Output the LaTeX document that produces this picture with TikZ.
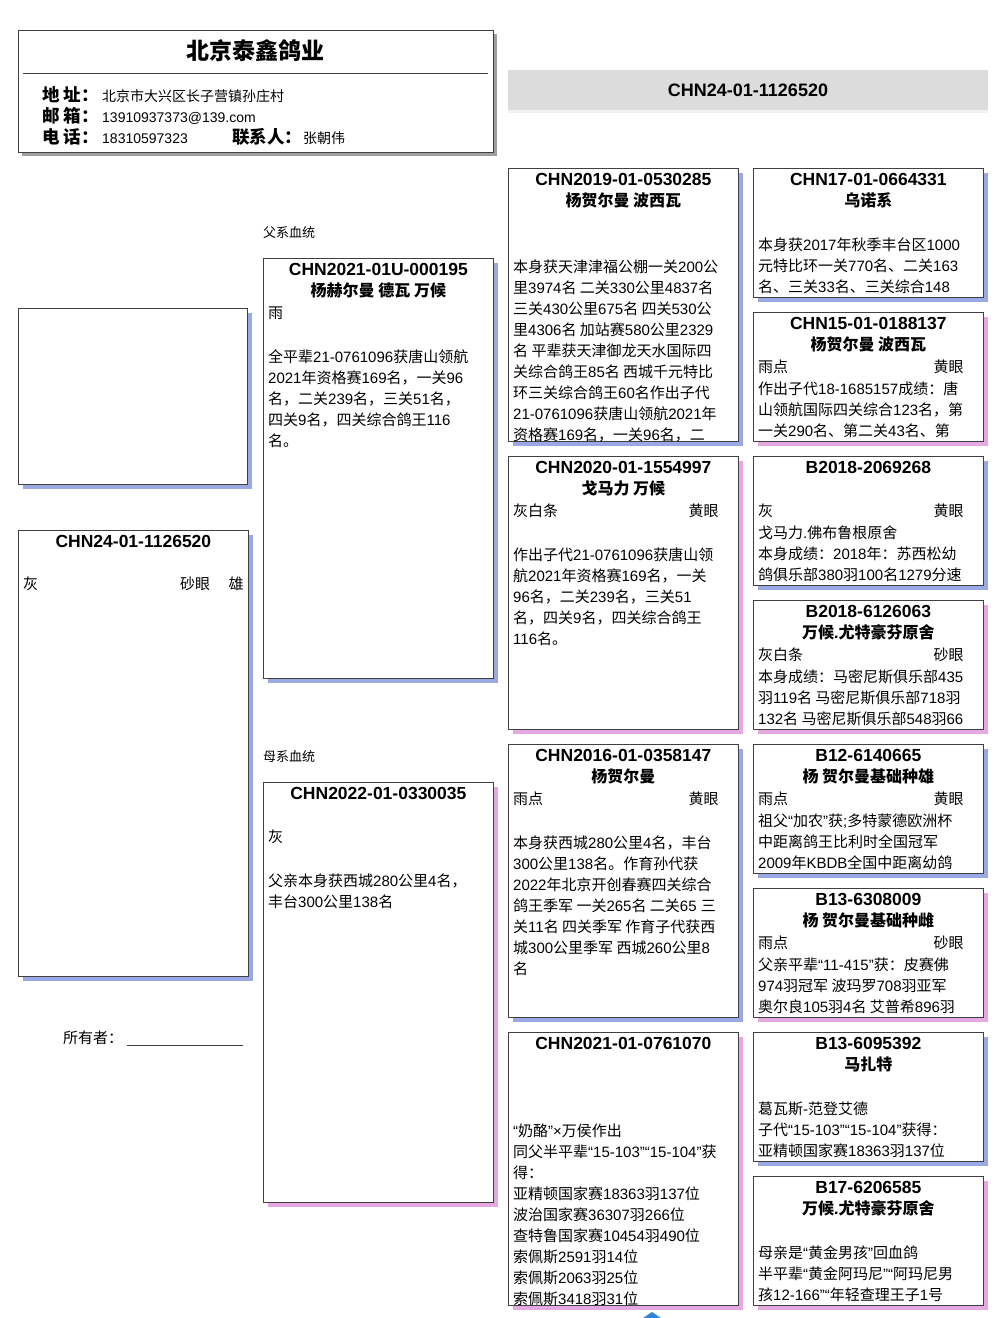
\documentclass[tikz,border=0pt]{standalone}
\usepackage{fontspec}
\setmainfont{Liberation Sans}
\newfontfamily\cjkfont{Noto Sans CJK SC}
\usepackage{tikz}
\usetikzlibrary{calc}
\definecolor{sireshade}{HTML}{9AA8E4}
\definecolor{damshade}{HTML}{E6A8E0}
\definecolor{barfill}{HTML}{DCDCDC}
\definecolor{edge}{HTML}{404040}
\definecolor{navblue}{HTML}{2F86D6}

% switch to the CJK font for Chinese characters
\XeTeXinterchartokenstate=1
\newXeTeXintercharclass\cjkcls
\newcount\cjkcode
\cjkcode="3000
\loop
  \XeTeXcharclass\cjkcode=\cjkcls
  \advance\cjkcode by 1
\ifnum\cjkcode<"A000 \repeat
\cjkcode="FF00
\loop
  \XeTeXcharclass\cjkcode=\cjkcls
  \advance\cjkcode by 1
\ifnum\cjkcode<"FFF0 \repeat
\XeTeXinterchartoks 0 \cjkcls = {\cjkfont}
\XeTeXinterchartoks 4095 \cjkcls = {\cjkfont}
\XeTeXinterchartoks \cjkcls 0 = {\rmfamily}
\XeTeXinterchartoks 4095 0 = {\rmfamily}

% card: name, top left, height, shadow colour, ring number
\newcommand{\pcard}[5]{%
  \fill[#4] ($(#2)+(5,5)$) rectangle ++(230,#3);
  \node[cardbox, minimum height=#3, anchor=north west] (#1) at (#2) {};
  \node[ringtxt] (#1-ring) at ($(#1.north)+(0,17)$) {#5};
}

\begin{document}
\begin{tikzpicture}[x=1pt, y=-1pt,
    cardbox/.style={draw=edge, line width=0.8pt, fill=white, minimum width=230, inner sep=0pt},
    ringtxt/.style={font=\bfseries\fontsize{17.5}{21}\selectfont, inner sep=0pt, anchor=base},
    strain/.style={font=\bfseries\fontsize{16}{21}\selectfont, inner sep=0pt, anchor=base},
    plain/.style={font=\fontsize{15}{21}\selectfont, inner sep=0pt},
    notes/.style={plain, align=left, anchor=north west, execute at begin node=\strut},
    hlabel/.style={font=\bfseries\fontsize{17.5}{21}\selectfont, inner sep=0pt, anchor=base west},
    hvalue/.style={font=\fontsize{14}{18}\selectfont, inner sep=0pt, anchor=base west},
    small/.style={font=\fontsize{13}{16}\selectfont, inner sep=0pt, anchor=base west}]
    \useasboundingbox (0,0) rectangle (1006,1318);

    % Header card
    \fill[gray!75] (22,34) rectangle (497,156);
    \node[draw=edge, line width=0.8pt, fill=white, minimum width=475, minimum height=122,
          inner sep=0pt, anchor=north west] (head) at (18,30) {};
    \node[font=\bfseries\fontsize{23}{28}\selectfont, inner sep=0pt, anchor=base] (firm)
        at ($(head.north)+(0,29)$) {北京泰鑫鸽业};
    \draw[edge] ($(head.north west)+(5,43)$) -- ($(head.north east)+(-6,43)$);
    \node[hlabel] (addrL) at (42,101.5) {地 址：};
    \node[hvalue] (addr) at (102,101) {北京市大兴区长子营镇孙庄村};
    \node[hlabel] (mailL) at (42,122.5) {邮 箱：};
    \node[hvalue] (mail) at (102,122) {13910937373@139.com};
    \node[hlabel] (telL) at (42,143.5) {电 话：};
    \node[hvalue] (tel) at (102,143) {18310597323};
    \node[hlabel] (manL) at (232,143.5) {联系人：};
    \node[hvalue] (man) at (303,143) {张朝伟};

    % Ring bar
    \fill[barfill] (508,70) rectangle (988,110);
    \fill[gray!12] (508,110) rectangle (988,113);
    \node[font=\bfseries\fontsize{18}{22}\selectfont, inner sep=0pt, anchor=base] (bird)
        at (748,96.5) {CHN24-01-1126520};

    % Photo and the bird itself
    \fill[sireshade] (23,313) rectangle ++(229,176);
    \node[cardbox, minimum width=229, minimum height=176, anchor=north west] (photo) at (18,308) {};
    \pcard{self}{18,530}{446}{sireshade}{CHN24-01-1126520}
    \node[plain, anchor=base west] (self-c) at ($(self.north west)+(5,59)$) {灰};
    \node[plain, anchor=base west] (self-e) at ($(self.north west)+(162,59)$) {砂眼};
    \node[plain, anchor=base east] (self-x) at ($(self.north east)+(-5,59)$) {雄};
    \node[plain, anchor=base west] (owner) at (63,1043) {所有者：};
    \draw[edge] ($(owner.base east)+(4,2)$) -- ++(116,0);

    % Parents
    \node[small] (sireL) at (263,237.5) {父系血统};
    \pcard{sire}{263,258}{420}{sireshade}{CHN2021-01U-000195}
    \node[strain] (sire-s) at ($(sire.north)+(0,38)$) {杨赫尔曼 德瓦 万候};
    \node[plain, anchor=base west] (sire-c) at ($(sire.north west)+(5,60)$) {雨};
    \node[notes] (sire-n) at ($(sire.north west)+(5,91.8)$) {全平辈21-0761096获唐山领航\\2021年资格赛169名，一关96\\名，二关239名，三关51名，\\四关9名，四关综合鸽王116\\名。};

    \node[small] (damL) at (263,761.5) {母系血统};
    \pcard{dam}{263,782}{420}{damshade}{CHN2022-01-0330035}
    \node[plain, anchor=base west] (dam-c) at ($(dam.north west)+(5,60)$) {灰};
    \node[notes] (dam-n) at ($(dam.north west)+(5,91.8)$) {父亲本身获西城280公里4名，\\丰台300公里138名};

    % Grandparents
    \pcard{ss}{508,168}{273}{sireshade}{CHN2019-01-0530285}
    \node[strain] (ss-s) at ($(ss.north)+(0,38)$) {杨贺尔曼 波西瓦};
    \begin{scope}
      \clip (ss.north west) rectangle (ss.south east);
      \node[notes] (ss-n) at ($(ss.north west)+(5,91.8)$) {本身获天津津福公棚一关200公\\里3974名 二关330公里4837名\\三关430公里675名 四关530公\\里4306名 加站赛580公里2329\\名 平辈获天津御龙天水国际四\\关综合鸽王85名 西城千元特比\\环三关综合鸽王60名作出子代\\21-0761096获唐山领航2021年\\资格赛169名，一关96名，二};
    \end{scope}

    \pcard{sd}{508,456}{273}{damshade}{CHN2020-01-1554997}
    \node[strain] (sd-s) at ($(sd.north)+(0,38)$) {戈马力 万候};
    \node[plain, anchor=base west] (sd-c) at ($(sd.north west)+(5,60)$) {灰白条};
    \node[plain, anchor=base east] (sd-e) at ($(sd.north east)+(-20,60)$) {黄眼};
    \node[notes] (sd-n) at ($(sd.north west)+(5,91.8)$) {作出子代21-0761096获唐山领\\航2021年资格赛169名，一关\\96名，二关239名，三关51\\名，四关9名，四关综合鸽王\\116名。};

    \pcard{ds}{508,744}{273}{sireshade}{CHN2016-01-0358147}
    \node[strain] (ds-s) at ($(ds.north)+(0,38)$) {杨贺尔曼};
    \node[plain, anchor=base west] (ds-c) at ($(ds.north west)+(5,60)$) {雨点};
    \node[plain, anchor=base east] (ds-e) at ($(ds.north east)+(-20,60)$) {黄眼};
    \node[notes] (ds-n) at ($(ds.north west)+(5,91.8)$) {本身获西城280公里4名，丰台\\300公里138名。作育孙代获\\2022年北京开创春赛四关综合\\鸽王季军 一关265名 二关65 三\\关11名 四关季军 作育子代获西\\城300公里季军 西城260公里8\\名};

    \pcard{dd}{508,1032}{273}{damshade}{CHN2021-01-0761070}
    \begin{scope}
      \clip (dd.north west) rectangle (dd.south east);
      \node[notes] (dd-n) at ($(dd.north west)+(5,91.8)$) {“奶酪”×万侯作出\\同父半平辈“15-103”“15-104”获\\得：\\亚精顿国家赛18363羽137位\\波治国家赛36307羽266位\\查特鲁国家赛10454羽490位\\索佩斯2591羽14位\\索佩斯2063羽25位\\索佩斯3418羽31位};
    \end{scope}

    % Great-grandparents
    \pcard{sss}{753,168}{129}{sireshade}{CHN17-01-0664331}
    \node[strain] (sss-s) at ($(sss.north)+(0,38)$) {乌诺系};
    \node[notes] (sss-n) at ($(sss.north west)+(5,69.8)$) {本身获2017年秋季丰台区1000\\元特比环一关770名、二关163\\名、三关33名、三关综合148};

    \pcard{ssd}{753,312}{129}{damshade}{CHN15-01-0188137}
    \node[strain] (ssd-s) at ($(ssd.north)+(0,38)$) {杨贺尔曼 波西瓦};
    \node[plain, anchor=base west] (ssd-c) at ($(ssd.north west)+(5,60)$) {雨点};
    \node[plain, anchor=base east] (ssd-e) at ($(ssd.north east)+(-20,60)$) {黄眼};
    \node[notes] (ssd-n) at ($(ssd.north west)+(5,69.8)$) {作出子代18-1685157成绩：唐\\山领航国际四关综合123名，第\\一关290名、第二关43名、第};

    \pcard{sds}{753,456}{129}{sireshade}{B2018-2069268}
    \node[plain, anchor=base west] (sds-c) at ($(sds.north west)+(5,60)$) {灰};
    \node[plain, anchor=base east] (sds-e) at ($(sds.north east)+(-20,60)$) {黄眼};
    \node[notes] (sds-n) at ($(sds.north west)+(5,69.8)$) {戈马力.佛布鲁根原舍\\本身成绩：2018年：苏西松幼\\鸽俱乐部380羽100名1279分速};

    \pcard{sdd}{753,600}{129}{damshade}{B2018-6126063}
    \node[strain] (sdd-s) at ($(sdd.north)+(0,38)$) {万候.尤特豪芬原舍};
    \node[plain, anchor=base west] (sdd-c) at ($(sdd.north west)+(5,60)$) {灰白条};
    \node[plain, anchor=base east] (sdd-e) at ($(sdd.north east)+(-20,60)$) {砂眼};
    \node[notes] (sdd-n) at ($(sdd.north west)+(5,69.8)$) {本身成绩：马密尼斯俱乐部435\\羽119名 马密尼斯俱乐部718羽\\132名 马密尼斯俱乐部548羽66};

    \pcard{dss}{753,744}{129}{sireshade}{B12-6140665}
    \node[strain] (dss-s) at ($(dss.north)+(0,38)$) {杨 贺尔曼基础种雄};
    \node[plain, anchor=base west] (dss-c) at ($(dss.north west)+(5,60)$) {雨点};
    \node[plain, anchor=base east] (dss-e) at ($(dss.north east)+(-20,60)$) {黄眼};
    \node[notes] (dss-n) at ($(dss.north west)+(5,69.8)$) {祖父“加农”获;多特蒙德欧洲杯\\中距离鸽王比利时全国冠军\\2009年KBDB全国中距离幼鸽};

    \pcard{dsd}{753,888}{129}{damshade}{B13-6308009}
    \node[strain] (dsd-s) at ($(dsd.north)+(0,38)$) {杨 贺尔曼基础种雌};
    \node[plain, anchor=base west] (dsd-c) at ($(dsd.north west)+(5,60)$) {雨点};
    \node[plain, anchor=base east] (dsd-e) at ($(dsd.north east)+(-20,60)$) {砂眼};
    \node[notes] (dsd-n) at ($(dsd.north west)+(5,69.8)$) {父亲平辈“11-415”获：皮赛佛\\974羽冠军 波玛罗708羽亚军\\奥尔良105羽4名 艾普希896羽};

    \pcard{dds}{753,1032}{129}{sireshade}{B13-6095392}
    \node[strain] (dds-s) at ($(dds.north)+(0,38)$) {马扎特};
    \node[notes] (dds-n) at ($(dds.north west)+(5,69.8)$) {葛瓦斯-范登艾德\\子代“15-103”“15-104”获得：\\亚精顿国家赛18363羽137位};

    \pcard{ddd}{753,1176}{129}{damshade}{B17-6206585}
    \node[strain] (ddd-s) at ($(ddd.north)+(0,38)$) {万候.尤特豪芬原舍};
    \node[notes] (ddd-n) at ($(ddd.north west)+(5,69.8)$) {母亲是“黄金男孩”回血鸽\\半平辈“黄金阿玛尼”“阿玛尼男\\孩12-166”“年轻查理王子1号};

    % little mark at the bottom edge
    \fill[navblue] (643,1318) -- (652,1312) -- (661,1318) -- cycle;
\end{tikzpicture}
\end{document}
